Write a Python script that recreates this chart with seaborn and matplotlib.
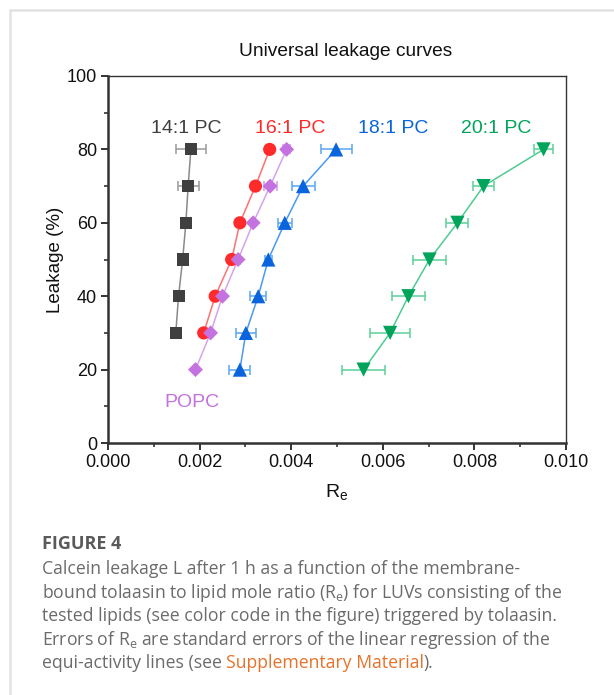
import matplotlib
matplotlib.use("Agg")
import matplotlib.pyplot as plt
import seaborn as sns
import pandas as pd
from matplotlib.lines import Line2D
from matplotlib.ticker import MultipleLocator

# ---------------- data ----------------
L_14 = [30, 40, 50, 60, 70, 80]
R_14 = [0.00148, 0.00154, 0.00163, 0.00170, 0.00175, 0.00181]
E_14 = [0.00003, 0.00003, 0.00005, 0.00010, 0.00023, 0.00032]

L_16 = [30, 40, 50, 60, 70, 80]
R_16 = [0.00209, 0.00234, 0.00270, 0.00288, 0.00322, 0.00353]
E_16 = [0.00002, 0.00002, 0.00002, 0.00002, 0.00002, 0.00002]

L_PO = [20, 30, 40, 50, 60, 70, 80]
R_PO = [0.00191, 0.00224, 0.00250, 0.00284, 0.00317, 0.00354, 0.00390]
E_PO = [0.00002, 0.00003, 0.00003, 0.00004, 0.00005, 0.00014, 0.00008]

L_18 = [20, 30, 40, 50, 60, 70, 80]
R_18 = [0.00288, 0.00301, 0.00328, 0.00350, 0.00386, 0.00426, 0.00498]
E_18 = [0.00023, 0.00022, 0.00018, 0.00007, 0.00015, 0.00025, 0.00034]

L_20 = [20, 30, 40, 50, 60, 70, 80]
R_20 = [0.00558, 0.00616, 0.00656, 0.00702, 0.00763, 0.00820, 0.00951]
E_20 = [0.00047, 0.00044, 0.00036, 0.00036, 0.00024, 0.000225, 0.00020]

series_names = ["14:1 PC", "16:1 PC", "POPC", "18:1 PC", "20:1 PC"]
x_ticks = [0.000, 0.002, 0.004, 0.006, 0.008, 0.010]
y_ticks = [0, 20, 40, 60, 80, 100]

# ---------------- style ----------------
sns.set_theme(style="ticks")
plt.rcParams["font.family"] = ["Liberation Sans", "DejaVu Sans"]

W, H = 614, 695
fig = plt.figure(figsize=(W / 100, H / 100), dpi=100)
ax = fig.add_axes([108 / W, 1 - 443 / H, (566 - 108) / W, (443 - 76) / H])

styles = {
    "14:1 PC": dict(m="s", mc="#3f3f3f", lc="#8a8a8a", ec="#9a9a9a", ms=75),
    "16:1 PC": dict(m="o", mc="#ff2a2a", lc="#ff7070", ec="#ff8080", ms=90),
    "POPC":    dict(m="D", mc="#c472e0", lc="#d7a2ec", ec="#d49ae8", ms=58),
    "18:1 PC": dict(m="^", mc="#0a64dc", lc="#4a9af0", ec="#5aa6f2", ms=105),
    "20:1 PC": dict(m="v", mc="#00a45a", lc="#4ccc92", ec="#5ccf9a", ms=105),
}
data = {
    "14:1 PC": (R_14, L_14, E_14),
    "16:1 PC": (R_16, L_16, E_16),
    "POPC": (R_PO, L_PO, E_PO),
    "18:1 PC": (R_18, L_18, E_18),
    "20:1 PC": (R_20, L_20, E_20),
}

for name in series_names:
    R, Lk, E = data[name]
    st = styles[name]
    df = pd.DataFrame({"R": R, "L": Lk})
    sns.lineplot(data=df, x="R", y="L", sort=False, estimator=None,
                 color=st["lc"], linewidth=1.1, ax=ax, zorder=2)
    ax.errorbar(R, Lk, xerr=E, fmt="none", ecolor=st["ec"], elinewidth=1.1,
                capsize=3.5, capthick=1.1, zorder=3)
    sns.scatterplot(data=df, x="R", y="L", marker=st["m"], color=st["mc"],
                    s=st["ms"], edgecolor="none", linewidth=0, ax=ax, zorder=4)

ax.set_xlim(0, 0.010)
ax.set_ylim(0, 100)
ax.set_xticks(x_ticks)
ax.set_xticklabels([f"{v:.3f}" for v in x_ticks])
ax.set_yticks(y_ticks)
ax.set_yticklabels([str(v) for v in y_ticks])
ax.xaxis.set_minor_locator(MultipleLocator(0.001))
ax.yaxis.set_minor_locator(MultipleLocator(10))

for side in ["left", "bottom"]:
    ax.spines[side].set_linewidth(1.8)
    ax.spines[side].set_color("#333333")
for side in ["top", "right"]:
    ax.spines[side].set_linewidth(1.0)
    ax.spines[side].set_color("#333333")
ax.tick_params(which="major", direction="out", length=5, width=1.4,
               color="#333333", labelsize=13, labelcolor="#111111", pad=3)
ax.tick_params(which="minor", direction="out", length=3, width=1.2,
               color="#333333")
ax.tick_params(axis="both", which="both", top=False, right=False)

ax.set_xlabel(r"R$_\mathregular{e}$", fontsize=14, color="#111111", labelpad=8)
ax.set_ylabel("Leakage (%)", fontsize=13.5, color="#111111", labelpad=2)

# series labels
ax.text(0.00170, 85.8, "14:1 PC", color="#3f3f3f", fontsize=14, ha="center", va="center")
ax.text(0.00397, 85.8, "16:1 PC", color="#ff2a2a", fontsize=14, ha="center", va="center")
ax.text(0.00622, 85.8, "18:1 PC", color="#0a64dc", fontsize=14, ha="center", va="center")
ax.text(0.00847, 85.8, "20:1 PC", color="#00a45a", fontsize=14, ha="center", va="center")
ax.text(0.00183, 10.9, "POPC", color="#c472e0", fontsize=14, ha="center", va="center")

fig.text(346 / W, 1 - 51 / H, "Universal leakage curves", fontsize=13.8,
         color="#111111", ha="center", va="center")

# panel frame (top + left light gray lines)
fig.add_artist(Line2D([10 / W, 1], [1 - 10 / H, 1 - 10 / H], color="#e2e2e2", linewidth=1.8,
                      transform=fig.transFigure))
fig.add_artist(Line2D([10 / W, 10 / W], [0, 1 - 10 / H], color="#e2e2e2", linewidth=1.8,
                      transform=fig.transFigure))

# caption
cap_font = ["Open Sans", "DejaVu Sans"]
cap_col = "#6b6b6b"
cap_size = 12.7
fig.text(42 / W, 1 - 544 / H, "FIGURE 4", fontsize=13, fontweight="bold",
         color="#5a5a5a", family=cap_font, ha="left", va="center")
lines = [
    "Calcein leakage L after 1 h as a function of the membrane-",
    r"bound tolaasin to lipid mole ratio (R$_\mathregular{e}$) for LUVs consisting of the",
    "tested lipids (see color code in the figure) triggered by tolaasin.",
    r"Errors of R$_\mathregular{e}$ are standard errors of the linear regression of the",
]
ys = [569, 593, 616, 640]
for txt, yy in zip(lines, ys):
    fig.text(42 / W, 1 - yy / H, txt, fontsize=cap_size, color=cap_col,
             family=cap_font, ha="left", va="center")

ybase = 1 - (663 + 5) / H
t1 = fig.text(42 / W, ybase, "equi-activity lines (see ", fontsize=cap_size,
              color=cap_col, family=cap_font, ha="left", va="baseline")
t2 = fig.text(0, ybase, "Supplementary Material", fontsize=cap_size, color="#e8722a",
              family=cap_font, ha="left", va="baseline")
t3 = fig.text(0, ybase, ").", fontsize=cap_size, color=cap_col, family=cap_font,
              ha="left", va="baseline")
fig.canvas.draw()
r = fig.canvas.get_renderer()
bb1 = t1.get_window_extent(r)
t2.set_position((bb1.x1 / W, ybase))
fig.canvas.draw()
bb2 = t2.get_window_extent(r)
t3.set_position(((bb2.x1 - 1) / W, ybase))

fig.savefig("out.png", dpi=100)
